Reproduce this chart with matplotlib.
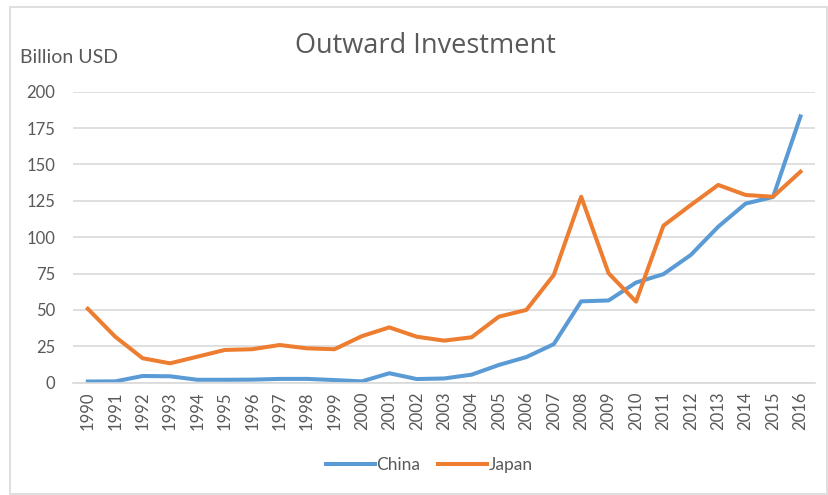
import matplotlib.pyplot as plt
from matplotlib.patches import Rectangle

plt.rcParams['font.family'] = ['Lato', 'DejaVu Sans']

years = [str(y) for y in range(1990, 2017)]
china = [0.8, 0.9, 4.6, 4.4, 2.0, 2.0, 2.1, 2.6, 2.6, 1.8, 0.9, 6.5, 2.5,
         2.9, 5.5, 12.2, 17.6, 26.5, 55.9, 56.5, 68.8, 74.6, 87.8, 107.2,
         123.1, 127.6, 183.0]
japan = [50.8, 31.6, 16.8, 13.3, 17.9, 22.5, 23.0, 25.9, 23.6, 23.0, 32.0,
         38.0, 31.6, 28.9, 31.2, 45.4, 50.0, 74.0, 127.8, 75.2, 55.7, 107.9,
         122.1, 135.9, 129.0, 127.8, 145.0]

text_color = '#595959'
grid_color = '#D9D9D9'

fig = plt.figure(figsize=(8.29, 4.95), dpi=100)
ax = fig.add_axes([0.0884, 0.2269, 0.8947, 0.5879])

x = list(range(len(years)))
ax.plot(x, china, color='#5B9BD5', lw=2.9, label='China', solid_joinstyle='round')
ax.plot(x, japan, color='#ED7D31', lw=2.9, label='Japan', solid_joinstyle='round')

ax.set_xlim(-0.53, len(years) - 0.47)
ax.set_ylim(0, 200)
ax.set_yticks(range(0, 201, 25))
ax.set_xticks(x)
ax.set_xticklabels(years, rotation=90)
ax.tick_params(length=0, labelsize=12, colors=text_color)
ax.tick_params(axis='y', pad=13)
ax.tick_params(axis='x', pad=6)
ax.grid(axis='y', color=grid_color, lw=1.2)
ax.set_axisbelow(True)
for side in ['top', 'right', 'left']:
    ax.spines[side].set_visible(False)
ax.spines['bottom'].set_color(grid_color)
ax.spines['bottom'].set_linewidth(1.2)

fig.text(0.513, 0.908, 'Outward Investment', ha='center', va='center',
         fontsize=19.5, color=text_color, family=['Open Sans', 'DejaVu Sans'])
fig.text(0.024, 0.883, 'Billion USD', ha='left', va='center',
         fontsize=14, color=text_color)

ax.legend(loc='center', bbox_to_anchor=(0.48, -0.283), ncol=2, frameon=False,
          fontsize=12.5, labelcolor=text_color, handlelength=2.8,
          handletextpad=0.1, columnspacing=1.0)

fig.patches.append(Rectangle((0.012, 0.002), 0.985, 0.984, transform=fig.transFigure,
                             fill=False, edgecolor=grid_color, lw=1.2))

fig.savefig('out.png', dpi=100)
